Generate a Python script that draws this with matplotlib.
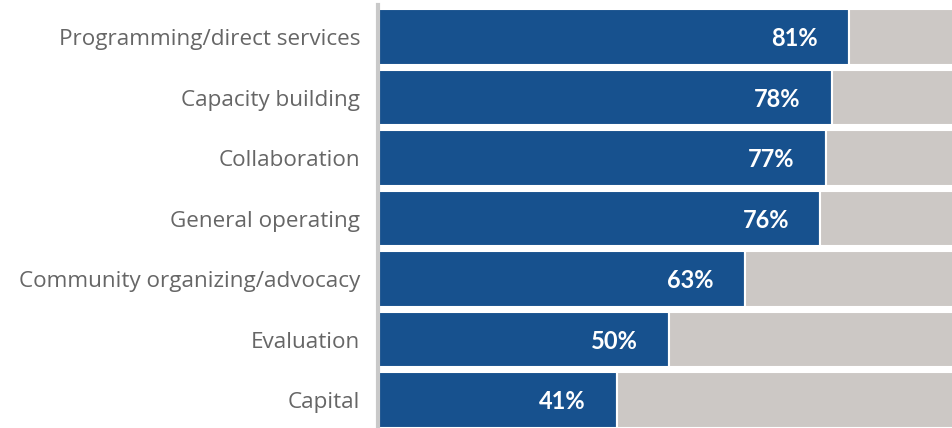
import matplotlib
matplotlib.use("Agg")
import matplotlib.pyplot as plt

categories = [
    "Programming/direct services",
    "Capacity building",
    "Collaboration",
    "General operating",
    "Community organizing/advocacy",
    "Evaluation",
    "Capital",
]
values = [81, 78, 77, 76, 63, 50, 41]
labels = ["81%", "78%", "77%", "76%", "63%", "50%", "41%"]

blue = "#17518E"
grey = "#CCC8C5"

fig = plt.figure(figsize=(9.53, 4.28), dpi=100)
ax = fig.add_axes([0.397, 0, 0.603, 1 - 5 / 428])

ypos = list(range(len(categories)))
rest = [100 - v for v in values]
ax.barh(ypos, values, height=0.92, color=blue, edgecolor="white", linewidth=1.5)
ax.barh(ypos, rest, left=values, height=0.92, color=grey, edgecolor="white", linewidth=1.5)

for y, v, lab in zip(ypos, values, labels):
    ax.text(v - 5.4, y + 0.03, lab, ha="right", va="center", color="white",
            fontsize=17, fontweight="bold", family="Lato")

ax.set_xlim(0, 98.8)
ax.set_ylim(6.46, -0.53)
ax.set_yticks(ypos)
ax.set_yticklabels(categories, fontsize=16.2, color="#666666", family="Open Sans")
ax.tick_params(axis="y", length=0, pad=13)
ax.set_xticks([])
for s in ["top", "right", "bottom"]:
    ax.spines[s].set_visible(False)
ax.spines["left"].set_color("#C9C9C9")
ax.spines["left"].set_linewidth(3)

fig.savefig("out.png", dpi=100)
